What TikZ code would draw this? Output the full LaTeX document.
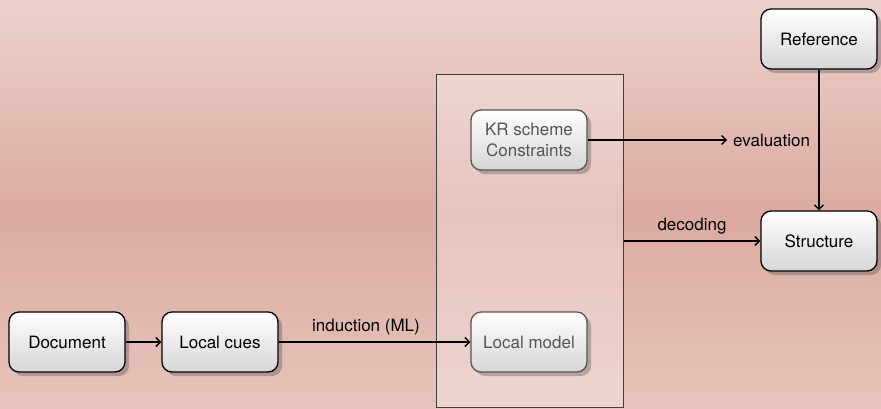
\documentclass[tikz,border=0pt]{standalone}
\usepackage{fontspec}
\setmainfont{TeX Gyre Heros}
\usetikzlibrary{arrows.meta,shadows,positioning}
\definecolor{bgtop}{RGB}{236,210,204}
\definecolor{bgmid}{RGB}{219,170,160}
\definecolor{bgbot}{RGB}{230,196,187}
\definecolor{dimtext}{RGB}{85,85,85}
\tikzset{
  box/.style={draw=black, line width=1.3pt, rounded corners=10pt,
    minimum width=116pt, minimum height=60pt, align=center,
    top color=white, bottom color=black!16,
    font=\fontsize{17}{21.5}\selectfont,
    drop shadow={shadow xshift=4pt, shadow yshift=-4pt, opacity=0.35, fill=black!70}},
  dimbox/.style={box, draw=dimtext, text=dimtext},
  conn/.style={line width=1.4pt, -{Straight Barb[length=4.5pt,width=9pt,line width=1.4pt]}},
  lbl/.style={font=\fontsize{17}{21.5}\selectfont}
}
\begin{document}
\begin{tikzpicture}[x=1pt,y=-1pt]
\useasboundingbox (0,0) rectangle (881,408);
\shade[top color=bgtop, bottom color=bgmid] (0,0) rectangle (881,212);
\shade[top color=bgmid, bottom color=bgbot] (0,212) rectangle (881,408);
\draw[draw=black!75, line width=1pt, fill=white, fill opacity=0.3] (436,74) rectangle (623.5,407.5);
\coordinate (rectright) at (623.5,241);

\node[box] (doc) at (67,342) {Document};
\node[box] (cues) at (220,342) {Local cues};
\node[dimbox] (model) at (529,342) {Local model};
\node[dimbox] (kr) at (529,140) {KR scheme\\Constraints};
\node[box] (ref) at (819,39) {Reference};
\node[box] (struct) at (819,241) {Structure};

\coordinate (evaltip) at (727,140);
\node[lbl, anchor=west, inner sep=0pt] (evallbl) at (733,140) {evaluation};
\node[lbl] (indlbl) at (366,327) {induction (ML)};
\node[lbl] (declbl) at (692,226) {decoding};

\draw[conn] (doc) -- (cues);
\draw[conn] (cues) -- (model);
\draw[conn] (kr) -- (evaltip);
\draw[conn] (ref) -- (struct);
\draw[conn] (rectright) -- (struct);
\end{tikzpicture}
\end{document}
